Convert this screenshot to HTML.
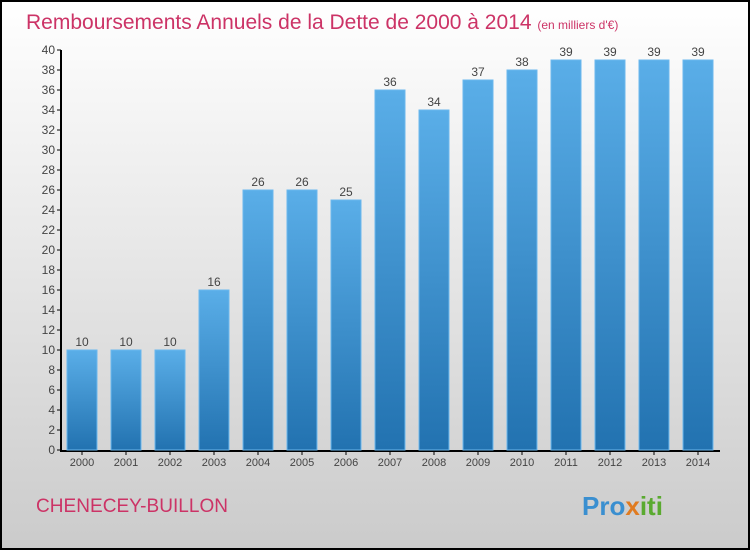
<!DOCTYPE html>
<html><head><meta charset="utf-8"><style>
body{margin:0}
svg{display:block;font-family:"Liberation Sans",sans-serif}
</style></head><body>
<svg width="750" height="550">
<defs>
<linearGradient id="bg" x1="0" y1="0" x2="0" y2="1"><stop offset="0" stop-color="#ffffff"/><stop offset="1" stop-color="#cbcbcb"/></linearGradient>
<linearGradient id="bar" x1="0" y1="0" x2="0" y2="1"><stop offset="0" stop-color="#5aaee8"/><stop offset="1" stop-color="#2272b0"/></linearGradient>
</defs>
<rect x="1" y="1" width="748" height="548" fill="url(#bg)" stroke="#000" stroke-width="2"/>
<text x="26" y="29" font-size="21" fill="#cc3366">Remboursements Annuels de la Dette de 2000 à 2014 <tspan font-size="12">(en milliers d'€)</tspan></text>
<text x="36" y="512" font-size="19" fill="#cc3366" textLength="192">CHENECEY-BUILLON</text>
<text x="582" y="515" font-size="26" font-weight="bold" fill="#3a8fd0">Pro<tspan fill="#e07b20">x</tspan><tspan fill="#5aaa30">iti</tspan></text>
<g id="axes"></g>
<g id="bars"></g>
</svg>
<script>
const years=["2000","2001","2002","2003","2004","2005","2006","2007","2008","2009","2010","2011","2012","2013","2014"];
const values=[10,10,10,16,26,26,25,36,34,37,38,39,39,39,39];
const yTicks=[0,2,4,6,8,10,12,14,16,18,20,22,24,26,28,30,32,34,36,38,40];
const NS="http://www.w3.org/2000/svg";
const y=v=>450-v*10, x=i=>82+i*44;
const ax=document.getElementById('axes'), bg=document.getElementById('bars');
function mk(tag,attrs,parent,txt){const e=document.createElementNS(NS,tag);for(const k in attrs)e.setAttribute(k,attrs[k]);if(txt!==undefined)e.textContent=txt;parent.appendChild(e);return e;}
let l=mk('line',{x1:61,y1:50,x2:61,y2:451,stroke:'#000','stroke-width':2},ax);


l=mk('line',{x1:60,y1:451,x2:720,y2:451,stroke:'#000','stroke-width':2},ax);


yTicks.forEach(t=>{
 const tk=mk('line',{x1:57,x2:61,y1:y(t),y2:y(t),stroke:'#000'},ax);
 
 
 const tx=mk('text',{x:55,y:y(t)+4,'text-anchor':'end','font-size':12,fill:'#444'},ax,t);
 
 
});
years.forEach((yr,i)=>{
 const tk=mk('line',{x1:x(i),x2:x(i),y1:451,y2:455,stroke:'#000'},ax);
 
 
 const tx=mk('text',{x:x(i),y:466,'text-anchor':'middle','font-size':11,fill:'#444'},ax,yr);
 
 
 const r=mk('rect',{x:x(i)-15,y:y(values[i]),width:30,height:450-y(values[i]),fill:'url(#bar)',stroke:'#6bb8ee','stroke-width':1},bg);
 
 
 const v=mk('text',{x:x(i),y:y(values[i])-4,'text-anchor':'middle','font-size':12,fill:'#444'},bg,values[i]);
 
 
});
</script>
</body></html>
